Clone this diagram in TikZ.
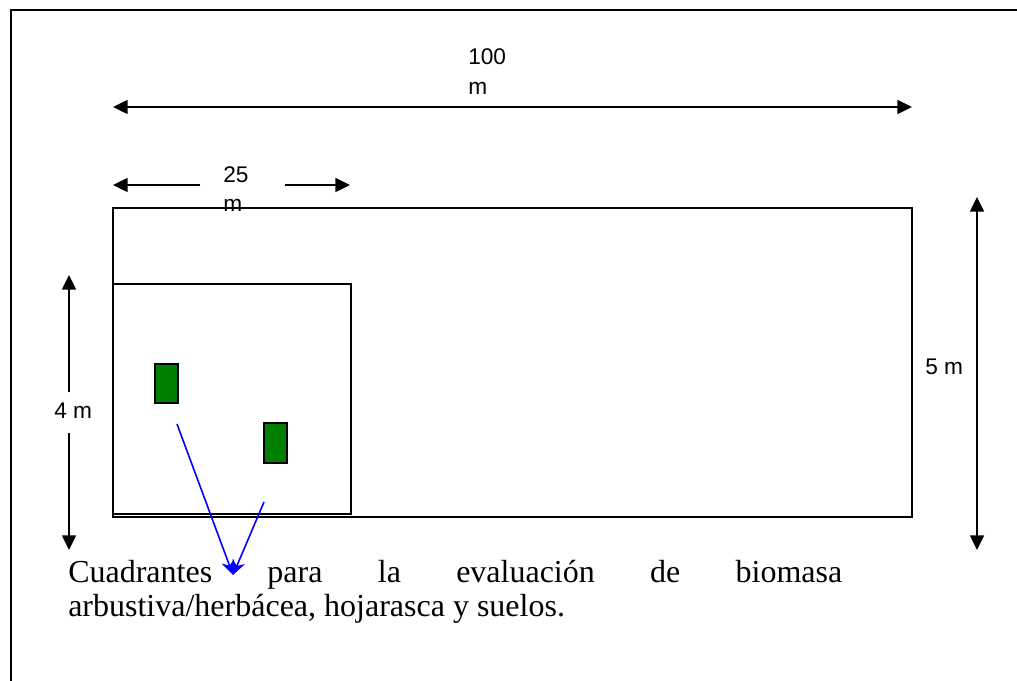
\documentclass[tikz,border=0pt]{standalone}
\usepackage{fontspec}
\setmainfont{Liberation Serif}
\newfontfamily\arialf{Liberation Sans}
\usetikzlibrary{arrows.meta}
\begin{document}
\begin{tikzpicture}[x=0.75pt,y=-0.75pt,
  frame/.style={line width=1.6pt},
  plot/.style={line width=1pt},
  dimline/.style={line width=1.1pt},
  dimtip/.style={-{Triangle[length=11pt,width=10.5pt]}},
  lab/.style={font=\arialf\fontsize{17}{20}\selectfont, inner sep=0pt, anchor=base west},
  quad/.style={draw=black, line width=1pt, fill={rgb,255:red,0;green,128;blue,0}},
  pointer/.style={draw=blue, line width=1.2pt, -{Stealth[length=11pt,width=10pt]}},
  body/.style={font=\fontsize{24}{27}\selectfont, inner sep=0pt, anchor=base west}]
\useasboundingbox (0,0) rectangle (1017,681);
% outer frame (top and left sides only visible)
\draw[frame] (11,700) -- (11,10) -- (1030,10);
% 100 m dimension
\coordinate (l100) at (113,107);
\coordinate (r100) at (912,107);
\draw[dimline,{Triangle[length=11pt,width=10.5pt]}-{Triangle[length=11pt,width=10.5pt]}] (l100) -- (r100);
\node[lab] (t100) at (468,65) {100};
\node[lab] (t100m) at (468,95) {m};
% 25 m dimension
\coordinate (a25s) at (200,185);
\coordinate (a25e) at (113,185);
\coordinate (b25s) at (285,185);
\coordinate (b25e) at (350,185);
\draw[dimline,dimtip] (a25s) -- (a25e);
\draw[dimline,dimtip] (b25s) -- (b25e);
\node[lab] (t25) at (223,182) {25};
\node[lab] (t25m) at (223,211) {m};
% plots
\draw[plot] (113,208) rectangle (912,517);
\draw[plot] (113,284) rectangle (351,514);
% 4 m dimension
\coordinate (a4s) at (69,392);
\coordinate (a4e) at (69,275);
\coordinate (b4s) at (69,433);
\coordinate (b4e) at (69,550);
\draw[dimline,dimtip] (a4s) -- (a4e);
\draw[dimline,dimtip] (b4s) -- (b4e);
\node[lab] (t4) at (54,418) {4 m};
% 5 m dimension
\coordinate (t5top) at (977,197);
\coordinate (t5bot) at (977,550);
\draw[dimline,{Triangle[length=11pt,width=10.5pt]}-{Triangle[length=11pt,width=10.5pt]}] (t5top) -- (t5bot);
\node[lab] (t5) at (925,374) {5 m};
% quadrants
\draw[quad] (155,364) rectangle (178,403);
\draw[quad] (264,423) rectangle (287,463);
% pointers
\coordinate (p1) at (177,424);
\coordinate (p2) at (264,502);
\coordinate (tip) at (233,575);
\draw[pointer] (p1) -- (tip);
\draw[pointer] (p2) -- (tip);
% caption
\node[body] (cap1) at (68,582) {\makebox[580.5pt][s]{Cuadrantes para la evaluación de biomasa}};
\node[body] (cap2) at (68,616) {arbustiva/herbácea, hojarasca y suelos.};
\end{tikzpicture}
\end{document}
